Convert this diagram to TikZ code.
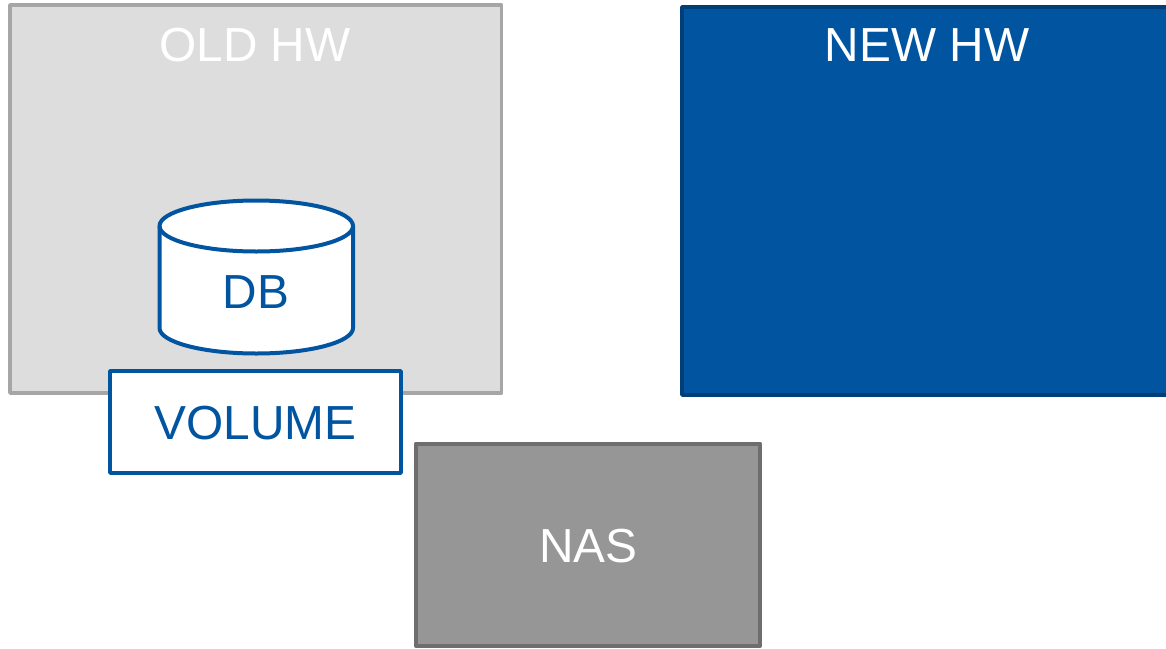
\documentclass[tikz,border=0pt]{standalone}
\usepackage{fontspec}
\setmainfont{Liberation Sans}
\definecolor{oldfill}{HTML}{DDDDDD}
\definecolor{oldline}{HTML}{A6A6A6}
\definecolor{blueF}{HTML}{0054A0}
\definecolor{blueL}{HTML}{003E78}
\definecolor{nasfill}{HTML}{969696}
\definecolor{nasline}{HTML}{6E6E6E}
\tikzset{x=1pt,y=-1pt,
 lbl/.style={font=\fontsize{47.8}{50}\selectfont,inner sep=0pt,anchor=center},
 boxline/.style={line width=3.6pt,line join=round}}
\begin{document}
\begin{tikzpicture}
\useasboundingbox (0,0) rectangle (1166,648);
\draw[oldline,fill=oldfill,boxline] (10,5) rectangle (501.5,393);
\node[lbl,text=white] (oldhw) at (255,45) {OLD HW};
\draw[blueL,fill=blueF,boxline] (682,7) rectangle (1168,395);
\node[lbl,text=white] (newhw) at (927,45) {NEW HW};
\draw[blueF,fill=white,line width=4pt,line join=round] (159.5,226) arc[x radius=96.75,y radius=25.5,start angle=180,end angle=360] -- (353,328) arc[x radius=96.75,y radius=25.5,start angle=0,end angle=180] -- cycle;
\draw[blueF,line width=4pt] (159.5,226) arc[x radius=96.75,y radius=25.5,start angle=180,end angle=0];
\node[lbl,text=blueF] (db) at (256,292) {DB};
\draw[blueF,fill=white,boxline] (110,371) rectangle (401,473);
\node[lbl,text=blueF] (vol) at (255.5,423.5) {VOLUME};
\draw[nasline,fill=nasfill,line width=4pt,line join=round] (416,443.5) rectangle (760,646);
\node[lbl,text=white] (nas) at (588.5,546.5) {NAS};
\end{tikzpicture}
\end{document}
